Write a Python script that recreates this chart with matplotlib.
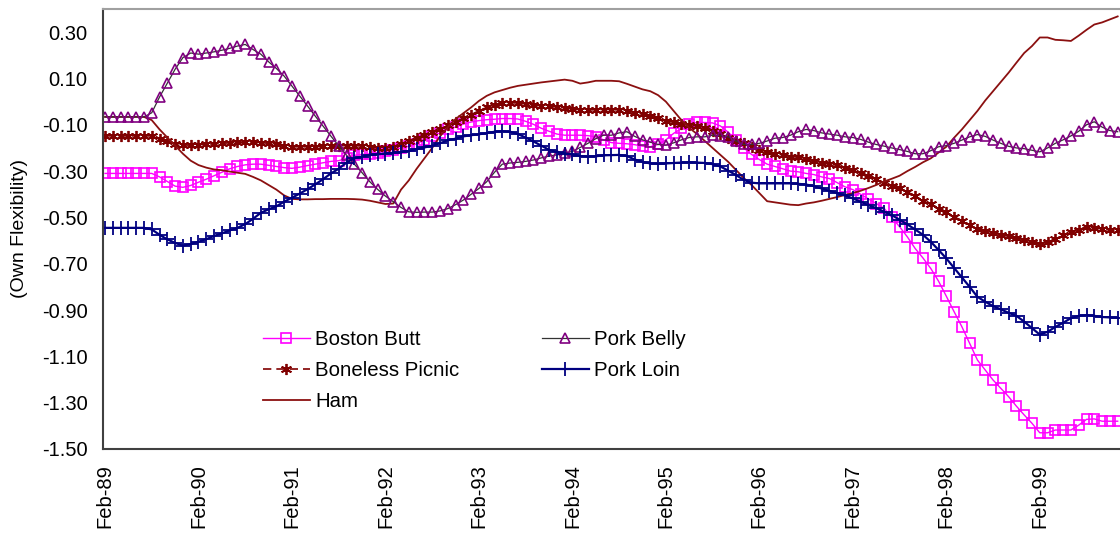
import matplotlib
matplotlib.use("Agg")
import matplotlib.pyplot as plt
import numpy as np

plt.rcParams['font.family'] = ['Liberation Sans', 'DejaVu Sans']

# monthly own-price flexibilities, Feb-89 .. Dec-99 (one row per year)
boston_butt = [
    -0.31, -0.31, -0.31, -0.31, -0.31, -0.31, -0.31, -0.325, -0.345, -0.365, -0.37, -0.362,
    -0.348, -0.335, -0.32, -0.305, -0.29, -0.28, -0.273, -0.27, -0.27, -0.275, -0.28, -0.285,
    -0.288, -0.283, -0.276, -0.27, -0.264, -0.258, -0.255, -0.245, -0.232, -0.228, -0.225, -0.22,
    -0.213, -0.207, -0.2, -0.193, -0.182, -0.165, -0.15, -0.135, -0.12, -0.11, -0.097, -0.088,
    -0.082, -0.078, -0.076, -0.073, -0.073, -0.075, -0.085, -0.098, -0.115, -0.128, -0.14, -0.145,
    -0.145, -0.145, -0.147, -0.152, -0.165, -0.177, -0.18, -0.182, -0.186, -0.192, -0.195, -0.185,
    -0.165, -0.137, -0.116, -0.098, -0.09, -0.09, -0.092, -0.105, -0.132, -0.165, -0.2, -0.228,
    -0.25, -0.27, -0.28, -0.29, -0.30, -0.303, -0.31, -0.315, -0.325, -0.332, -0.35, -0.368,
    -0.38, -0.40, -0.42, -0.44, -0.46, -0.50, -0.54, -0.584, -0.634, -0.675, -0.72, -0.775,
    -0.84, -0.907, -0.972, -1.044, -1.116, -1.159, -1.202, -1.238, -1.274, -1.315, -1.353, -1.389,
    -1.43, -1.43, -1.418, -1.418, -1.418, -1.397, -1.372, -1.37, -1.38, -1.38, -1.38,
]
boneless_picnic = [
    -0.148, -0.148, -0.148, -0.148, -0.148, -0.148, -0.148, -0.16, -0.172, -0.182, -0.187, -0.188,
    -0.186, -0.184, -0.183, -0.18, -0.178, -0.176, -0.175, -0.175, -0.177, -0.18, -0.185, -0.19,
    -0.195, -0.195, -0.195, -0.195, -0.193, -0.193, -0.192, -0.19, -0.19, -0.192, -0.197, -0.2,
    -0.2, -0.195, -0.185, -0.172, -0.158, -0.145, -0.132, -0.118, -0.1, -0.088, -0.072, -0.056,
    -0.04, -0.025, -0.013, -0.008, -0.005, -0.006, -0.01, -0.015, -0.018, -0.021, -0.023, -0.027,
    -0.031, -0.035, -0.036, -0.035, -0.034, -0.034, -0.036, -0.04, -0.047, -0.055, -0.063, -0.072,
    -0.082, -0.09, -0.096, -0.1, -0.105, -0.112, -0.125, -0.14, -0.155, -0.168, -0.18, -0.195,
    -0.208, -0.218, -0.228, -0.23, -0.237, -0.24, -0.246, -0.256, -0.263, -0.27, -0.275, -0.285,
    -0.297, -0.31, -0.32, -0.333, -0.35, -0.365, -0.375, -0.39, -0.408, -0.43, -0.44, -0.465,
    -0.478, -0.497, -0.515, -0.533, -0.55, -0.56, -0.567, -0.574, -0.582, -0.588, -0.597, -0.607,
    -0.615, -0.606, -0.595, -0.578, -0.565, -0.553, -0.542, -0.544, -0.55, -0.555, -0.555,
]
ham = [
    -0.066, -0.066, -0.066, -0.066, -0.066, -0.066, -0.08, -0.12, -0.155, -0.19, -0.225, -0.255,
    -0.274, -0.285, -0.293, -0.296, -0.302, -0.307, -0.312, -0.325, -0.34, -0.36, -0.38, -0.405,
    -0.42, -0.422, -0.422, -0.421, -0.421, -0.42, -0.42, -0.42, -0.421, -0.423, -0.428, -0.435,
    -0.442, -0.44, -0.38, -0.34, -0.29, -0.245, -0.2, -0.15, -0.11, -0.075, -0.05, -0.025,
    0.003, 0.025, 0.04, 0.05, 0.06, 0.068, 0.073, 0.078, 0.083, 0.087, 0.091, 0.095,
    0.09, 0.078, 0.083, 0.09, 0.09, 0.09, 0.088, 0.077, 0.065, 0.053, 0.045, 0.028,
    0.0, -0.04, -0.08, -0.113, -0.14, -0.17, -0.2, -0.23, -0.26, -0.295, -0.33, -0.36,
    -0.395, -0.43, -0.435, -0.44, -0.445, -0.447, -0.44, -0.435, -0.428, -0.42, -0.412, -0.403,
    -0.395, -0.385, -0.373, -0.36, -0.345, -0.333, -0.32, -0.3, -0.282, -0.262, -0.245, -0.22,
    -0.195, -0.156, -0.12, -0.08, -0.04, 0.005, 0.045, 0.085, 0.125, 0.168, 0.21, 0.24,
    0.277, 0.277, 0.267, 0.265, 0.262, 0.285, 0.31, 0.333, 0.342, 0.355, 0.368,
]
pork_belly = [
    -0.066, -0.066, -0.066, -0.066, -0.066, -0.066, -0.048, 0.02, 0.08, 0.14, 0.19, 0.21,
    0.205, 0.21, 0.215, 0.222, 0.23, 0.24, 0.247, 0.225, 0.205, 0.172, 0.143, 0.11,
    0.067, 0.024, -0.019, -0.063, -0.106, -0.149, -0.191, -0.231, -0.27, -0.307, -0.346, -0.379,
    -0.408, -0.432, -0.457, -0.476, -0.478, -0.477, -0.477, -0.472, -0.462, -0.445, -0.425, -0.4,
    -0.375, -0.346, -0.305, -0.27, -0.265, -0.262, -0.258, -0.252, -0.243, -0.235, -0.23, -0.222,
    -0.215, -0.198, -0.18, -0.16, -0.145, -0.145, -0.135, -0.13, -0.15, -0.165, -0.175, -0.185,
    -0.188, -0.178, -0.165, -0.155, -0.152, -0.152, -0.145, -0.147, -0.152, -0.17, -0.185, -0.185,
    -0.18, -0.17, -0.158, -0.155, -0.145, -0.13, -0.12, -0.125, -0.135, -0.14, -0.145, -0.152,
    -0.155, -0.163, -0.175, -0.185, -0.192, -0.2, -0.207, -0.215, -0.225, -0.225, -0.212, -0.195,
    -0.19, -0.18, -0.166, -0.152, -0.142, -0.15, -0.166, -0.18, -0.193, -0.2, -0.203, -0.21,
    -0.217, -0.2, -0.18, -0.165, -0.148, -0.128, -0.1, -0.087, -0.11, -0.125, -0.13,
]
pork_loin = [
    -0.545, -0.545, -0.545, -0.545, -0.545, -0.545, -0.552, -0.575, -0.595, -0.61, -0.622, -0.615,
    -0.605, -0.594, -0.58, -0.569, -0.556, -0.545, -0.529, -0.506, -0.48, -0.465, -0.452, -0.432,
    -0.415, -0.397, -0.378, -0.357, -0.335, -0.31, -0.29, -0.263, -0.245, -0.237, -0.231, -0.227,
    -0.224, -0.221, -0.218, -0.213, -0.205, -0.198, -0.19, -0.18, -0.167, -0.16, -0.15, -0.145,
    -0.141, -0.136, -0.13, -0.128, -0.13, -0.14, -0.155, -0.172, -0.19, -0.208, -0.218, -0.224,
    -0.228, -0.235, -0.237, -0.236, -0.232, -0.231, -0.23, -0.235, -0.25, -0.26, -0.267, -0.268,
    -0.267, -0.265, -0.263, -0.262, -0.263, -0.265, -0.27, -0.28, -0.298, -0.317, -0.338, -0.35,
    -0.353, -0.353, -0.353, -0.353, -0.353, -0.355, -0.358, -0.365, -0.375, -0.385, -0.395, -0.405,
    -0.418, -0.432, -0.447, -0.46, -0.475, -0.49, -0.51, -0.53, -0.552, -0.575, -0.605, -0.64,
    -0.677, -0.718, -0.759, -0.8, -0.843, -0.864, -0.883, -0.897, -0.912, -0.925, -0.95, -0.978,
    -1.006, -0.994, -0.973, -0.955, -0.935, -0.925, -0.922, -0.925, -0.93, -0.932, -0.933,
]
year_labels = ["Feb-89", "Feb-90", "Feb-91", "Feb-92", "Feb-93", "Feb-94",
               "Feb-95", "Feb-96", "Feb-97", "Feb-98", "Feb-99"]
y_ticks = [0.30, 0.10, -0.10, -0.30, -0.50, -0.70, -0.90, -1.10, -1.30, -1.50]

months = np.arange(len(boston_butt))

fig = plt.figure(figsize=(11.2, 5.34), dpi=100)
ax = fig.add_axes([103 / 1120, 1 - 449 / 534, 1017 / 1120, 440 / 534])

ax.plot(months, boston_butt, color='#FF00FF', lw=1.0, marker='s', ms=7.5,
        mfc='none', mec='#FF00FF', mew=1.2, label='Boston Butt')
ax.plot(months, boneless_picnic, color='#800000', lw=1.2, ls=(0, (5, 3)), marker=(6, 2, 0),
        ms=8, mec='#800000', mew=1.3, label='Boneless Picnic')
ax.plot(months, ham, color='#8B1010', lw=1.3, label='Ham')
ax.plot(months, pork_belly, color='#333333', lw=0.9, marker='^', ms=7.5,
        mfc='none', mec='#800080', mew=1.2, label='Pork Belly')
ax.plot(months, pork_loin, color='#000080', lw=1.6, marker='+', ms=10,
        mec='#000080', mew=1.3, label='Pork Loin')

ax.set_xlim(-0.26, 130.3)
ax.set_ylim(-1.5, 0.4)
ax.set_xticks(np.arange(0, 121, 12))
ax.set_xticklabels(year_labels, rotation=90, fontsize=14.5)
ax.set_yticks(y_ticks)
ax.set_yticklabels(["%.2f" % v for v in y_ticks], fontsize=14.5)
ax.tick_params(length=0, pad=11)

for side in ['left', 'bottom']:
    ax.spines[side].set_color('#404040')
    ax.spines[side].set_linewidth(1.5)
ax.spines['top'].set_color('#a0a0a0')
ax.spines['top'].set_linewidth(1.5)
ax.spines['right'].set_visible(False)

fig.text(20 / 1120, 1 - 229 / 534, '(Own Flexibility)', rotation=90,
         ha='center', va='center', fontsize=14)

ax.legend(loc='upper left', bbox_to_anchor=(263 / 1120, 1 - 330 / 534),
          bbox_transform=fig.transFigure, ncol=2, frameon=False, fontsize=14.7,
          handlelength=2.3, handletextpad=0.25, columnspacing=4.05,
          labelspacing=0.58, borderpad=0, borderaxespad=0)

fig.savefig('out.png', dpi=100)
